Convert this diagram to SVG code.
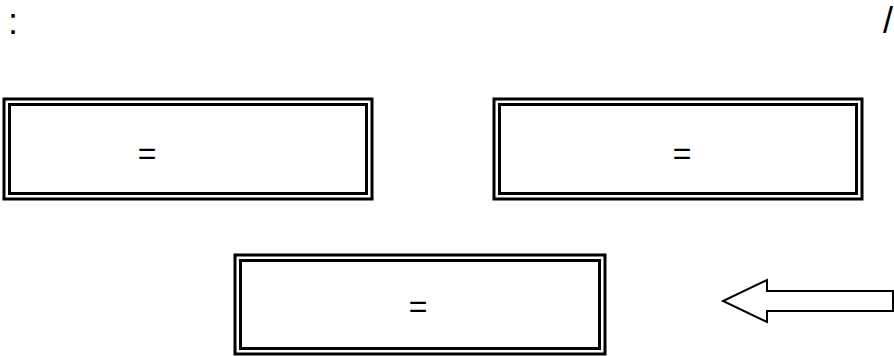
<svg xmlns="http://www.w3.org/2000/svg" width="894" height="356" viewBox="0 0 894 356">
<style>
.bo{fill:#fff;stroke:#000;stroke-width:3}
.bi{fill:none;stroke:#000;stroke-width:3}
.t{font-family:"Liberation Sans",Arial,sans-serif;font-size:32px;fill:#000}
.h{font-size:36px}
.m{text-anchor:middle}
</style>
<rect width="894" height="356" fill="#fff"/>
<text class="t h" x="8" y="34">:</text>
<text class="t h" x="883" y="33">/</text>
<g id="node1">
<rect class="bo" x="4" y="99" width="368" height="100"/>
<rect class="bi" x="9.5" y="104.5" width="357" height="89"/>
<text class="t m" x="147" y="164">=</text>
</g>
<g id="node2">
<rect class="bo" x="494" y="99" width="368" height="100"/>
<rect class="bi" x="499.5" y="104.5" width="357" height="89"/>
<text class="t m" x="682" y="164">=</text>
</g>
<g id="node3">
<rect class="bo" x="235" y="255" width="370" height="99"/>
<rect class="bi" x="240.5" y="260.5" width="359" height="88"/>
<text class="t m" x="418" y="317">=</text>
</g>
<g id="connectors">
<path d="M893,291 L767,291 L767,280 L723,301 L767,322 L767,311 L893,311 Z" fill="#fff" stroke="#000" stroke-width="2"/>
</g>
</svg>
